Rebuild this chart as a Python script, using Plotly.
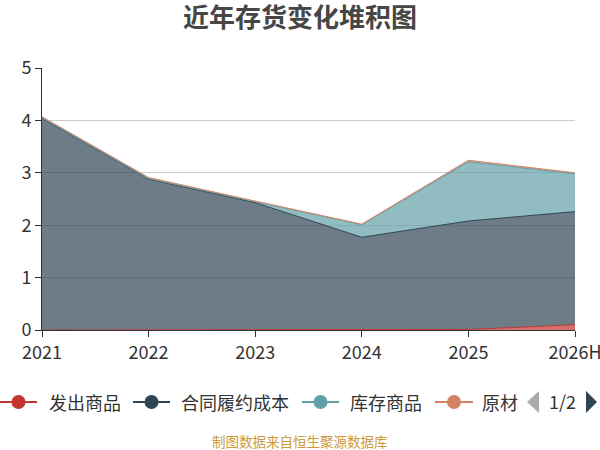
import plotly.graph_objects as go

years = ["2021", "2022", "2023", "2024", "2025", "2026H"]
fachu = [0.0, 0.0, 0.0, 0.0, 0.01, 0.10]
hetong = [4.04, 2.88, 2.43, 1.77, 2.07, 2.16]
kucun = [0.01, 0.01, 0.02, 0.24, 1.13, 0.72]
yuancailiao = [0.02, 0.02, 0.01, 0.01, 0.03, 0.02]

series = [
    ("发出商品", fachu, "#c23531", "rgba(194,53,49,0.7)"),
    ("合同履约成本", hetong, "#2f4554", "rgba(47,69,84,0.7)"),
    ("库存商品", kucun, "#61a0a8", "rgba(97,160,168,0.7)"),
    ("原材料", yuancailiao, "#d48265", "rgba(212,130,101,0.7)"),
]
legend_labels = ["发出商品", "合同履约成本", "库存商品", "原材"]

FONT = "Noto Sans CJK SC"
L, R, T, B = 42, 575, 68, 330
W, H = 600, 450

fig = go.Figure()
for name, vals, col, fcol in series:
    fig.add_trace(go.Scatter(
        x=years, y=vals, name=name, mode="lines", stackgroup="one",
        line=dict(color=col, width=1), fillcolor=fcol, showlegend=False,
        hoverinfo="x+y+name",
    ))

fig.update_layout(
    width=W, height=H,
    margin=dict(l=L, r=W - R, t=T, b=H - B, pad=0, autoexpand=False),
    paper_bgcolor="white", plot_bgcolor="white",
    font=dict(family=FONT, color="#333"),
    title=dict(text="<b>近年存货变化堆积图</b>", x=0.5, xanchor="center",
               y=1 - 18 / H, yanchor="middle", font=dict(size=26, color="#464646", family=FONT)),
    xaxis=dict(type="category", range=[0, 5], showgrid=False, showline=True,
               linecolor="#333", linewidth=1, ticks="outside", ticklen=6,
               tickcolor="#333", tickfont=dict(size=18, color="#333"), zeroline=False,
               automargin=False),
    yaxis=dict(range=[0, 5], dtick=1, showgrid=True, gridcolor="#cccccc",
               showline=True, linecolor="#333", linewidth=1, ticks="outside",
               ticklen=6, tickcolor="#333", tickfont=dict(size=18, color="#333"),
               zeroline=False, automargin=False),
)


def px(x):
    return (x - L) / (R - L)


def py(y):
    return (B - y) / (B - T)


# custom legend (page 1/2)
leg_y = 402
items = [(0, 37, 47), (133, 170, 179), (302, 339, 348), (435, 473, 480)]
shapes = []
annotations = []
for (name, vals, col, fcol), lab, (s0, s1, tx) in zip(series, legend_labels, items):
    shapes.append(dict(type="line", xref="paper", yref="paper",
                       x0=px(s0), x1=px(s1), y0=py(leg_y), y1=py(leg_y),
                       line=dict(color=col, width=2)))
    cx = (s0 + s1) / 2
    shapes.append(dict(type="circle", xref="paper", yref="paper",
                       x0=px(cx - 7), x1=px(cx + 7),
                       y0=py(leg_y + 7), y1=py(leg_y - 7),
                       fillcolor=col, line=dict(color=col, width=0)))
    annotations.append(dict(xref="paper", yref="paper", x=px(tx),
                            y=py(leg_y), xanchor="left", yanchor="middle",
                            text=lab, showarrow=False,
                            font=dict(size=18, color="#333", family=FONT)))

# pagination arrows
shapes.append(dict(type="path", xref="paper", yref="paper",
                   path=f"M {px(539)} {py(391)} L {px(527)} {py(402)} L {px(539)} {py(413)} Z",
                   fillcolor="#aaaaaa", line=dict(width=0)))
shapes.append(dict(type="path", xref="paper", yref="paper",
                   path=f"M {px(586)} {py(391)} L {px(597)} {py(402)} L {px(586)} {py(413)} Z",
                   fillcolor="#2f4554", line=dict(width=0)))
annotations.append(dict(xref="paper", yref="paper", x=px(562), y=py(401),
                        xanchor="center", yanchor="middle", text="1/2", showarrow=False,
                        font=dict(size=18, color="#333", family=FONT)))
annotations.append(dict(xref="paper", yref="paper", x=px(300), y=py(441),
                        xanchor="center", yanchor="middle", text="制图数据来自恒生聚源数据库",
                        showarrow=False, font=dict(size=13.5, color="#cc9a3a", family=FONT)))

fig.update_layout(shapes=shapes, annotations=annotations)
fig.write_html("out.html", config={"displayModeBar": False},
               post_script="document.body.style.margin='0';document.documentElement.style.overflow='hidden';")
